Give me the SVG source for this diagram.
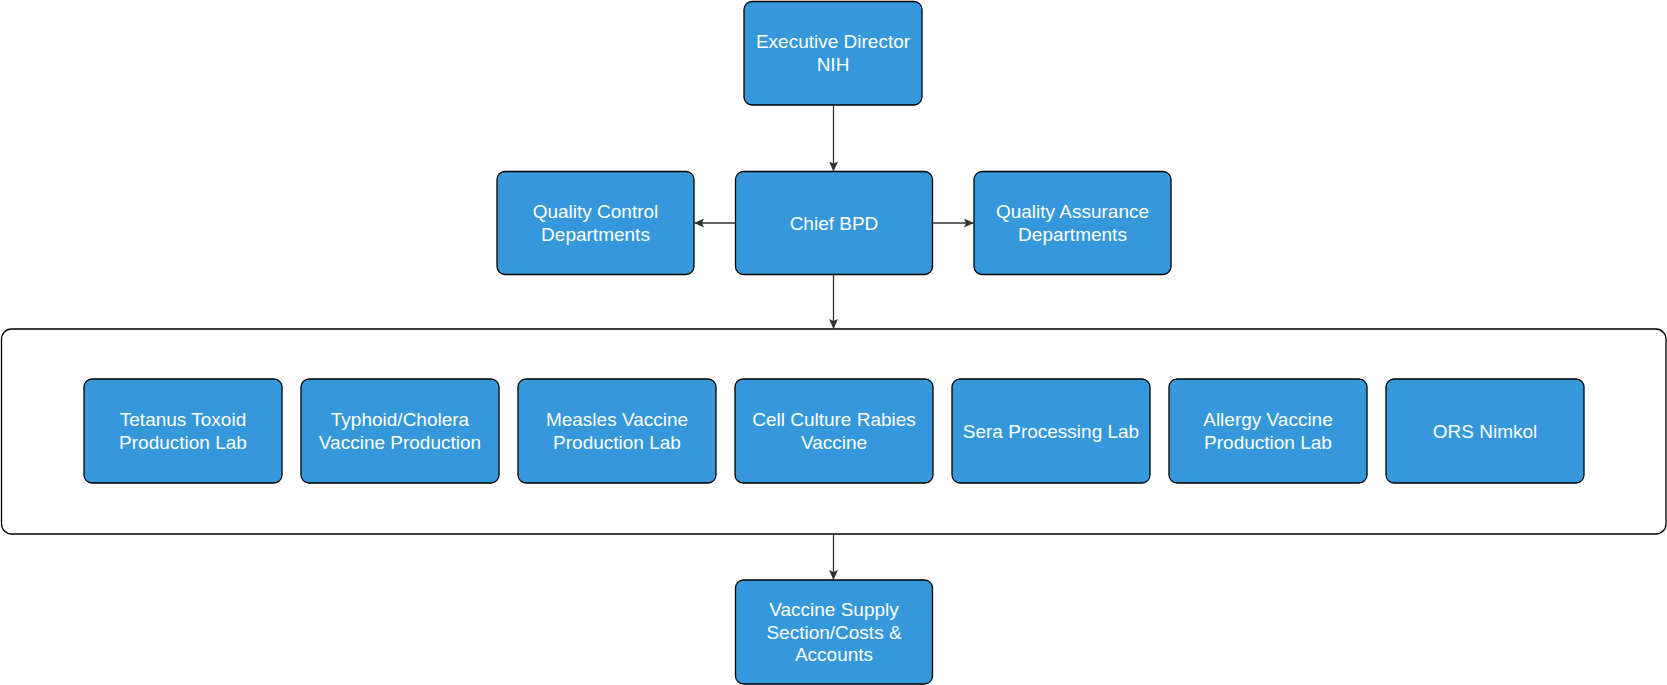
<svg xmlns="http://www.w3.org/2000/svg" width="1667" height="685" viewBox="0 0 1667 685">
<defs>
<marker id="arr" viewBox="0 0 10 10" refX="9.5" refY="5" markerWidth="10" markerHeight="9" markerUnits="userSpaceOnUse" orient="auto" preserveAspectRatio="none">
<path d="M0,0 L10,5 L0,10 L2,5 Z" fill="#333333"/>
</marker>
<style>
.box{fill:#3498db;stroke:#000000;stroke-width:1.3}
.cont{fill:#ffffff;stroke:#000000;stroke-width:1.3}
.t{font-family:"Liberation Sans",Arial,Helvetica,sans-serif;font-size:19px;fill:#ffffff;text-anchor:middle}
.c{fill:none;stroke:#333333;stroke-width:1.3;marker-end:url(#arr)}
</style>
</defs>
<rect width="1667" height="685" fill="#ffffff"/>
<g id="container"><rect class="cont" x="1.5" y="329" width="1664.5" height="205" rx="10" ry="10"/></g>
<g id="exec"><rect class="box" x="744" y="1.5" width="178" height="103.5" rx="8" ry="8"/><text class="t" x="833" y="48.4">Executive Director</text><text class="t" x="833" y="71.2">NIH</text></g>
<g id="qc"><rect class="box" x="497" y="171.5" width="197" height="103" rx="8" ry="8"/><text class="t" x="595.5" y="218.2">Quality Control</text><text class="t" x="595.5" y="241">Departments</text></g>
<g id="chief"><rect class="box" x="735.5" y="171.5" width="197" height="103" rx="8" ry="8"/><text class="t" x="834" y="229.5">Chief BPD</text></g>
<g id="qa"><rect class="box" x="974" y="171.5" width="197" height="103" rx="8" ry="8"/><text class="t" x="1072.5" y="218.2">Quality Assurance</text><text class="t" x="1072.5" y="241">Departments</text></g>
<g id="tetanus"><rect class="box" x="84" y="379" width="198" height="104" rx="8" ry="8"/><text class="t" x="183" y="426.1">Tetanus Toxoid</text><text class="t" x="183" y="448.9">Production Lab</text></g>
<g id="typhoid"><rect class="box" x="301" y="379" width="198" height="104" rx="8" ry="8"/><text class="t" x="400" y="426.1">Typhoid/Cholera</text><text class="t" x="400" y="448.9">Vaccine Production</text></g>
<g id="measles"><rect class="box" x="518" y="379" width="198" height="104" rx="8" ry="8"/><text class="t" x="617" y="426.1">Measles Vaccine</text><text class="t" x="617" y="448.9">Production Lab</text></g>
<g id="rabies"><rect class="box" x="735" y="379" width="198" height="104" rx="8" ry="8"/><text class="t" x="834" y="426.1">Cell Culture Rabies</text><text class="t" x="834" y="448.9">Vaccine</text></g>
<g id="sera"><rect class="box" x="952" y="379" width="198" height="104" rx="8" ry="8"/><text class="t" x="1051" y="437.5">Sera Processing Lab</text></g>
<g id="allergy"><rect class="box" x="1169" y="379" width="198" height="104" rx="8" ry="8"/><text class="t" x="1268" y="426.1">Allergy Vaccine</text><text class="t" x="1268" y="448.9">Production Lab</text></g>
<g id="ors"><rect class="box" x="1386" y="379" width="198" height="104" rx="8" ry="8"/><text class="t" x="1485" y="437.5">ORS Nimkol</text></g>
<g id="supply"><rect class="box" x="735.5" y="580" width="197" height="104" rx="8" ry="8"/><text class="t" x="834" y="615.8">Vaccine Supply</text><text class="t" x="834" y="638.6">Section/Costs &amp;</text><text class="t" x="834" y="661.4">Accounts</text></g>
<g id="connectors">
<line class="c" x1="833.5" y1="105" x2="833.5" y2="171"/>
<line class="c" x1="735.5" y1="223" x2="694.5" y2="223"/>
<line class="c" x1="932.5" y1="223" x2="973.5" y2="223"/>
<line class="c" x1="833.5" y1="274.5" x2="833.5" y2="328.5"/>
<line class="c" x1="833.5" y1="534" x2="833.5" y2="579.5"/>
</g>
</svg>
